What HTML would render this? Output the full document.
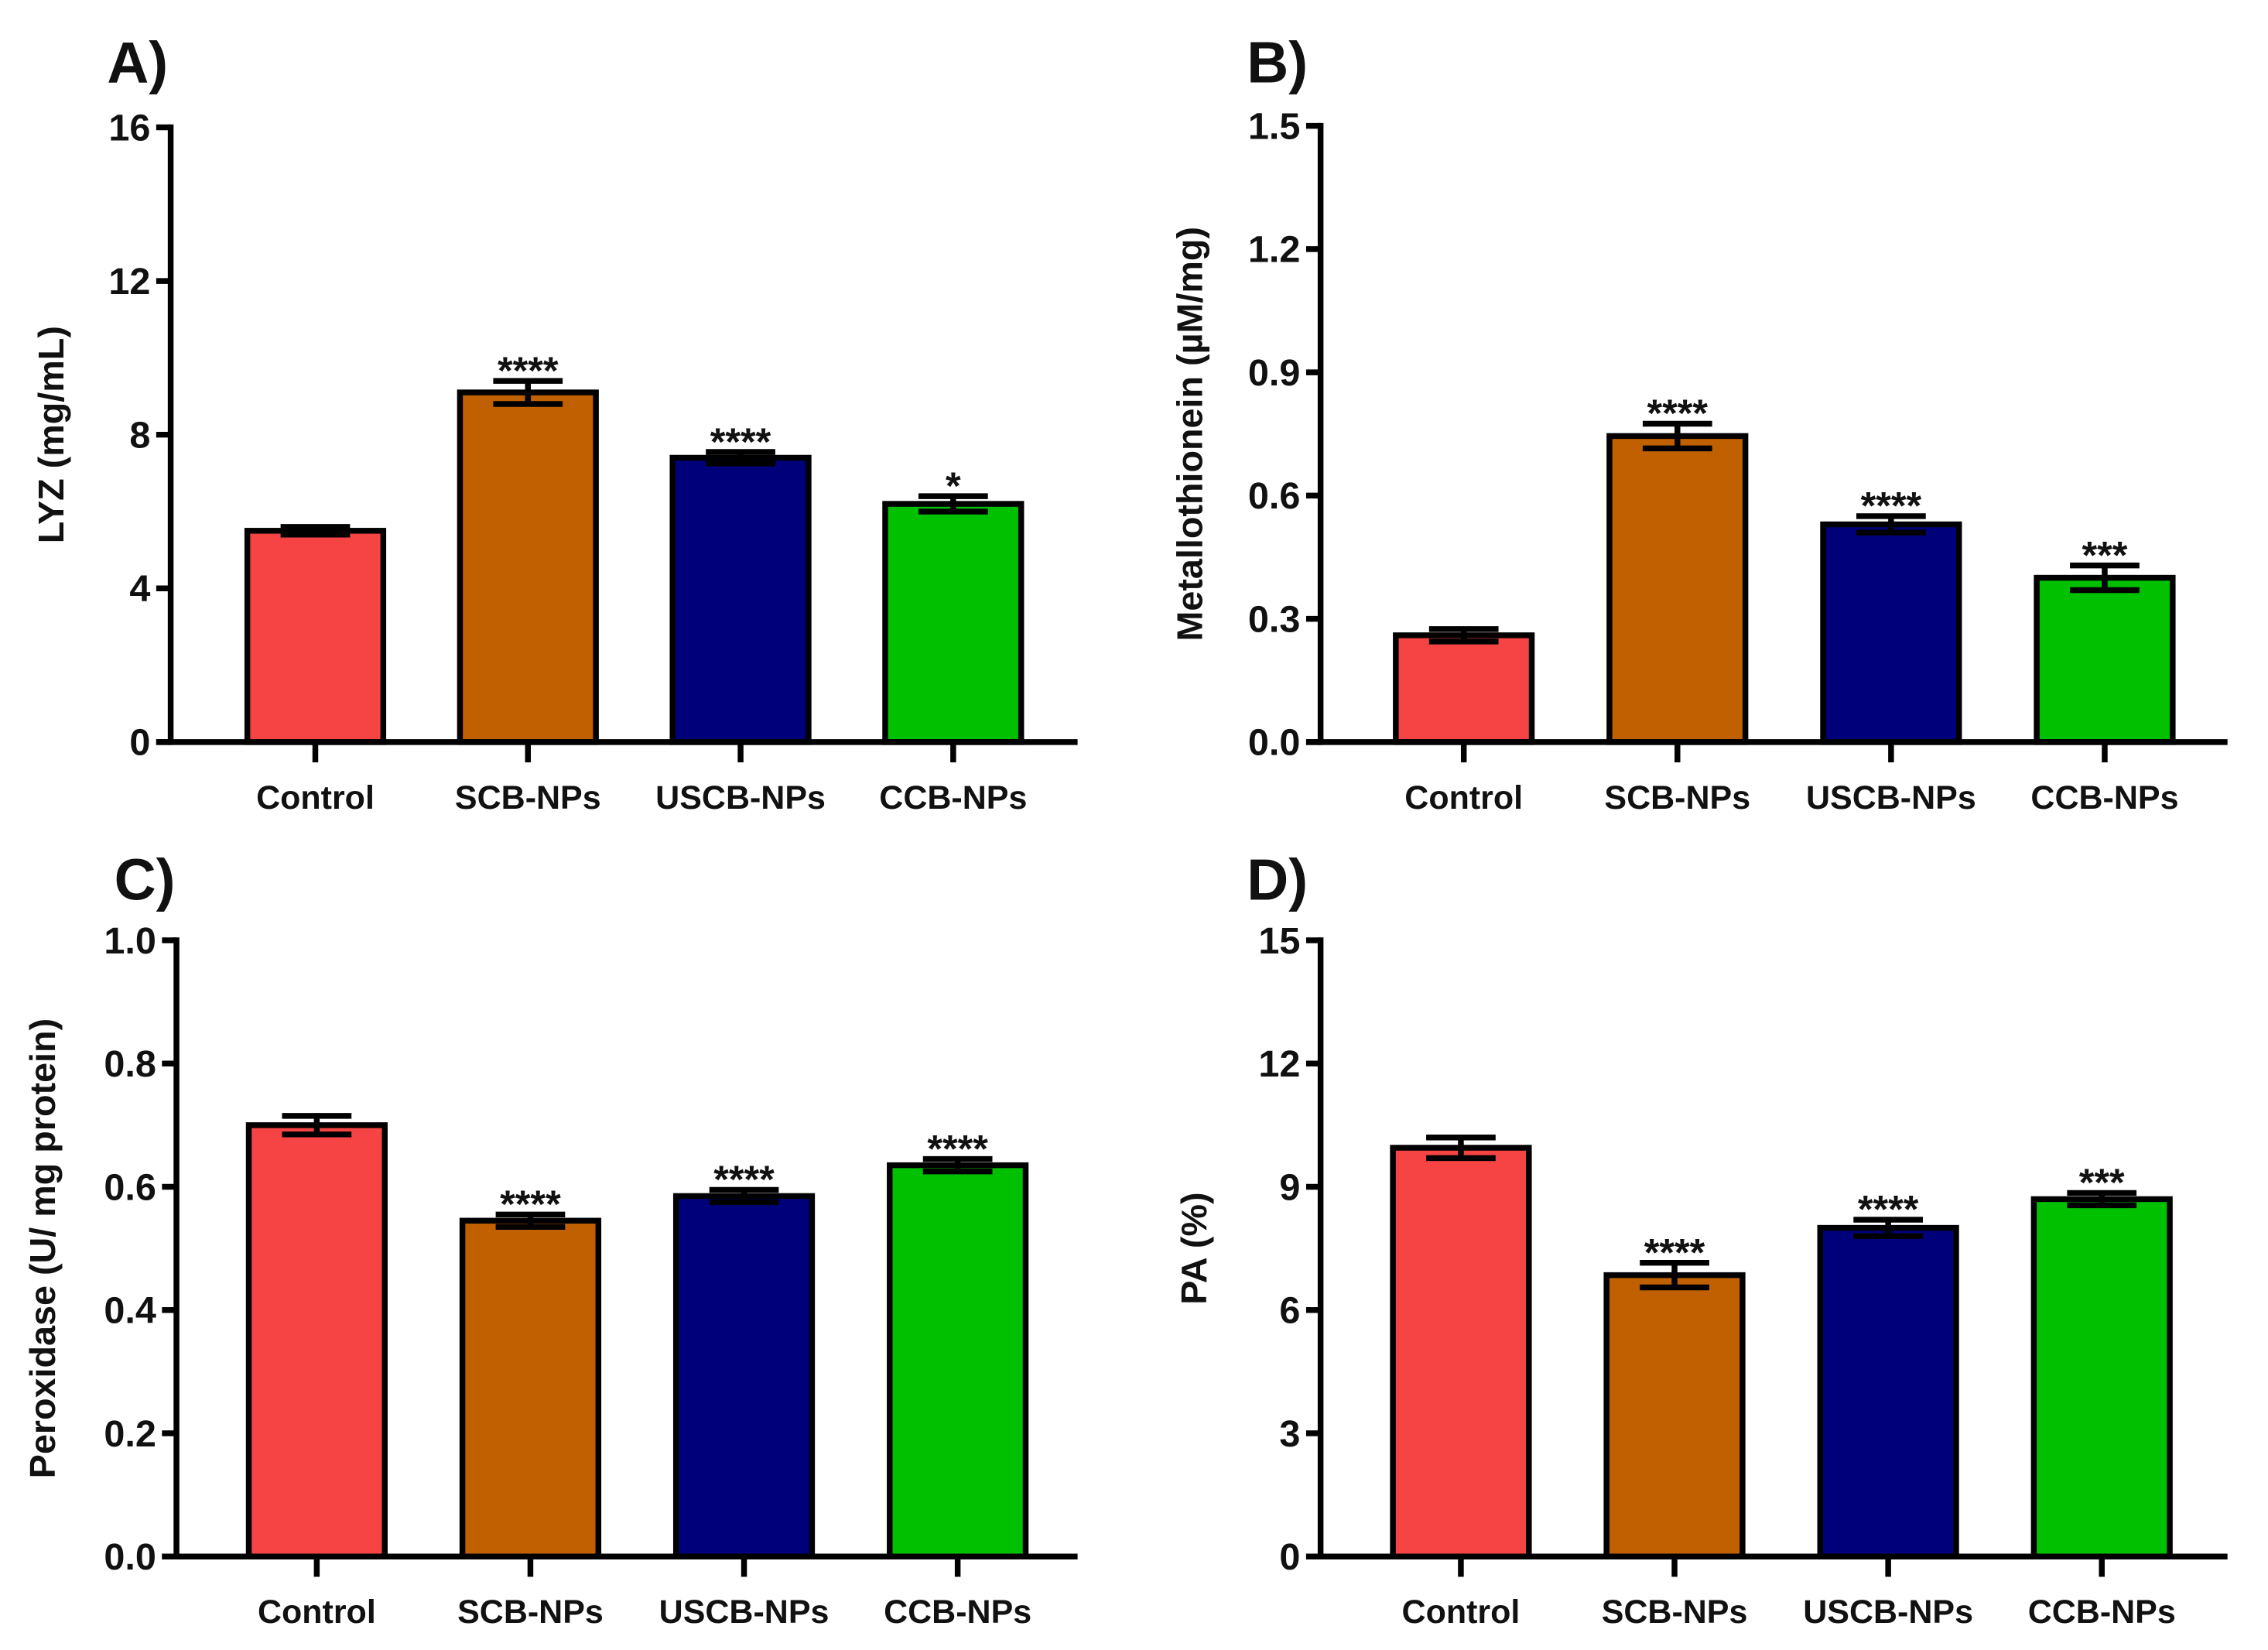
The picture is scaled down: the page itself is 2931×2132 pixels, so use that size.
<!DOCTYPE html>
<html><head><meta charset="utf-8"><style>
html,body{margin:0;padding:0;background:#fff;}
svg{display:block;}
text{font-family:"Liberation Sans",Arial,sans-serif;font-weight:bold;fill:#111;}
.tick{font-family:"Liberation Sans Narrow","Liberation Sans",sans-serif;font-weight:bold;}
</style></head><body>
<svg id="fig" xmlns="http://www.w3.org/2000/svg" width="2931" height="2132" viewBox="0 0 1568 1140.6" preserveAspectRatio="none"></svg>
<script>
const categories = ["Control","SCB-NPs","USCB-NPs","CCB-NPs"];
const colors = ["#f64444","#c06000","#00007a","#00c000"];
const lyzValues = [5.5, 9.1, 7.4, 6.2];
const lyzErrors = [0.1, 0.3, 0.15, 0.2];
const lyzStars = ["", "****", "****", "*"];
const lyzTicks = [0,4,8,12,16];
const mtValues = [0.26, 0.745, 0.53, 0.40];
const mtErrors = [0.015, 0.03, 0.02, 0.03];
const mtStars = ["", "****", "****", "***"];
const mtTicks = [0,0.3,0.6,0.9,1.2,1.5];
const poxValues = [0.70, 0.545, 0.585, 0.635];
const poxErrors = [0.015, 0.01, 0.01, 0.01];
const poxStars = ["", "****", "****", "****"];
const poxTicks = [0,0.2,0.4,0.6,0.8,1.0];
const paValues = [9.95, 6.85, 8.0, 8.7];
const paErrors = [0.25, 0.3, 0.2, 0.15];
const paStars = ["", "****", "****", "***"];
const paTicks = [0,3,6,9,12,15];

const NS="http://www.w3.org/2000/svg";
const svg=document.getElementById('fig');
function mk(tag,attrs,parent){const e=document.createElementNS(NS,tag);for(const k in attrs)e.setAttribute(k,attrs[k]);(parent||svg).appendChild(e);return e;}

const panels=[
 {id:'a',label:'A)',lx:74,ly:57,ax:118,top:88,bottom:513,right:745,c0:218,step:147,vals:lyzValues,errs:lyzErrors,stars:lyzStars,ticks:lyzTicks,dec:0,title:'LYZ (mg/mL)',tx:44},
 {id:'b',label:'B)',lx:862,ly:57,ax:913,top:87,bottom:513,right:1540,c0:1012,step:147.7,vals:mtValues,errs:mtErrors,stars:mtStars,ticks:mtTicks,dec:1,title:'Metallothionein (µM/mg)',tx:831},
 {id:'c',label:'C)',lx:79,ly:622,ax:122,top:650,bottom:1076,right:745,c0:219,step:147.7,vals:poxValues,errs:poxErrors,stars:poxStars,ticks:poxTicks,dec:1,title:'Peroxidase (U/ mg protein)',tx:38},
 {id:'d',label:'D)',lx:862,ly:622,ax:913,top:650,bottom:1076,right:1540,c0:1010,step:147.7,vals:paValues,errs:paErrors,stars:paStars,ticks:paTicks,dec:0,title:'PA (%)',tx:834}
];
panels.forEach(p=>{
  const g=mk('g',{});
  
  
  const max=p.ticks[p.ticks.length-1];
  const y=v=>p.bottom-(v/max)*(p.bottom-p.top);
  const pl=mk('text',{x:p.lx,y:p.ly,'font-size':40},g);pl.textContent=p.label;
  
  
  p.vals.forEach((v,i)=>{
    const cx=p.c0+i*p.step, w=94;
    const r=mk('rect',{x:cx-w/2,y:y(v),width:w,height:p.bottom-y(v),fill:colors[i],stroke:'#000','stroke-width':4},g);
    
    
    const e=p.errs[i];
    const eg=mk('g',{stroke:'#000','stroke-width':4},g);
    
    
    mk('line',{x1:cx,x2:cx,y1:y(v+e),y2:y(v-e)},eg);
    mk('line',{x1:cx-24,x2:cx+24,y1:y(v+e),y2:y(v+e)},eg);
    mk('line',{x1:cx-24,x2:cx+24,y1:y(v-e),y2:y(v-e)},eg);
    if(p.stars[i]){
      const s=mk('text',{x:cx,y:y(v+e)+2,'font-size':27,'text-anchor':'middle'},g);s.textContent=p.stars[i];
      
      
    }
    mk('line',{x1:cx,x2:cx,y1:p.bottom,y2:p.bottom+14,stroke:'#000','stroke-width':4},g);
    const cl=mk('text',{x:cx,y:p.bottom+46,'font-size':23,'text-anchor':'middle'},g);cl.textContent=categories[i];
    
    
  });
  const ya=mk('line',{x1:p.ax,x2:p.ax,y1:p.top-2,y2:p.bottom+2,stroke:'#000','stroke-width':4},g);
  
  
  const xa=mk('line',{x1:p.ax-10,x2:p.right,y1:p.bottom,y2:p.bottom,stroke:'#000','stroke-width':4},g);
  
  
  p.ticks.forEach(t=>{
    mk('line',{x1:p.ax-10,x2:p.ax,y1:y(t),y2:y(t),stroke:'#000','stroke-width':4},g);
    const tl=mk('text',{x:p.ax-14,y:y(t)+9,'font-size':26,'text-anchor':'end','class':'tick'},g);
    tl.textContent=t.toFixed(p.dec);
    
    
  });
  const mid=(p.top+p.bottom)/2;
  const at=mk('text',{x:p.tx,y:mid,'font-size':25,'text-anchor':'middle',transform:`rotate(-90 ${p.tx} ${mid})`},g);
  at.textContent=p.title;
  
  
});
</script>
</body></html>
